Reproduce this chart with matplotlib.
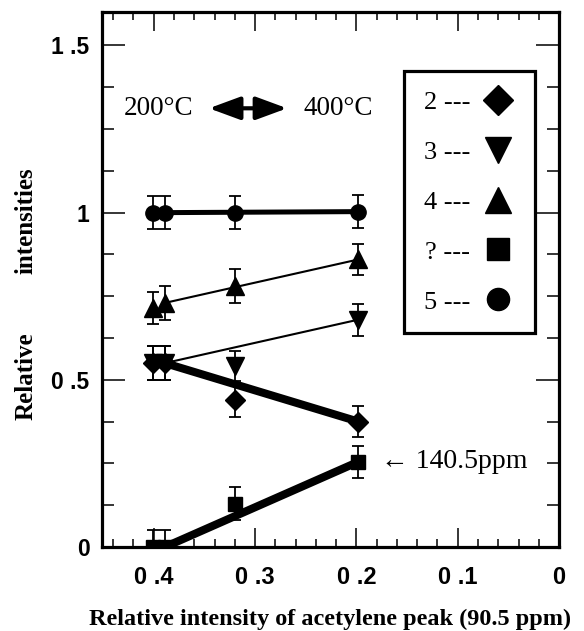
import matplotlib
matplotlib.use("Agg")
import matplotlib.pyplot as plt
from matplotlib.lines import Line2D
from matplotlib.ticker import MultipleLocator, FixedLocator

# ---- data ----
x_pts = [0.401, 0.389, 0.320, 0.198]

y_2 = [0.55, 0.55, 0.44, 0.375]      # diamonds
e_2 = [0.05, 0.05, 0.05, 0.046]
y_3 = [0.55, 0.55, 0.54, 0.68]       # down triangles
e_3 = [0.05, 0.05, 0.045, 0.048]
y_4 = [0.714, 0.73, 0.78, 0.86]      # up triangles
e_4 = [0.048, 0.05, 0.05, 0.046]
y_q = [0.0, 0.0, 0.13, 0.255]        # squares (unknown peak)
e_q = [0.05, 0.05, 0.05, 0.048]
y_5 = [1.0, 1.0, 1.0, 1.003]         # circles
e_5 = [0.05, 0.05, 0.05, 0.05]

legend_labels = ["2 ---", "3 ---", "4 ---", "? ---", "5 ---"]
x_ticks = [0.4, 0.3, 0.2, 0.1, 0.0]
x_ticklabels = ["0 .4", "0 .3", "0 .2", "0 .1", "0"]
y_ticks = [0, 0.5, 1.0, 1.5]
y_ticklabels = ["0", "0 .5", "1", "1 .5"]

SERIF = ["Liberation Serif", "DejaVu Serif"]
SANS = ["Liberation Sans", "DejaVu Sans"]

series = [
    (y_2, e_2, "D", 10.5, 5.8),
    (y_3, e_3, "v", 12.5, 1.5),
    (y_4, e_4, "^", 12.5, 1.5),
    (y_q, e_q, "s", 10.5, 5.8),
    (y_5, e_5, "o", 11.0, 3.6),
]

fig = plt.figure(figsize=(5.84, 6.31), dpi=100)
ax = fig.add_axes([0.1747, 0.1331, 0.7826, 0.8479])

for y, e, m, ms, lw in series:
    # line joins the 0.39 point and the 0.2 point
    ax.plot([x_pts[1], x_pts[3]], [y[1], y[3]], color="black", lw=lw,
            solid_capstyle="butt", zorder=2)
    ax.errorbar(x_pts, y, yerr=e, fmt="none", ecolor="black", elinewidth=1.3,
                capsize=4.3, capthick=1.3, zorder=3)
    ax.plot(x_pts, y, ls="none", marker=m, ms=ms, color="black", zorder=4)

ax.set_xlim(0.451, 0.0)
ax.set_ylim(0, 1.6)

ax.xaxis.set_major_locator(FixedLocator(x_ticks))
ax.xaxis.set_minor_locator(MultipleLocator(0.02))
ax.yaxis.set_major_locator(FixedLocator(y_ticks))
ax.yaxis.set_minor_locator(MultipleLocator(0.125))
ax.set_xticklabels(x_ticklabels, family=SANS, fontweight="bold", fontsize=17)
ax.set_yticklabels(y_ticklabels, family=SANS, fontweight="bold", fontsize=16.5)

ax.tick_params(axis="both", which="both", direction="in", top=True, right=True,
               width=1.1, color="black")
ax.tick_params(axis="x", which="major", length=14, pad=14)
ax.tick_params(axis="x", which="minor", length=6)
ax.tick_params(axis="y", which="major", length=16.5, pad=9)
ax.tick_params(axis="y", which="minor", length=8.5)
for sp in ax.spines.values():
    sp.set_linewidth(2.3)

# legend box with symbols after the labels
handles = [Line2D([], [], ls="none", marker=m, ms=ms, color="black")
           for _, _, m, ms, _ in series]
leg = ax.legend(handles, legend_labels, markerfirst=False, loc="upper left",
                bbox_to_anchor=(0.661, 0.890), frameon=True, fancybox=False,
                framealpha=1, edgecolor="black", handlelength=1.3,
                handletextpad=0.4, labelspacing=1.0, borderpad=0.75,
                borderaxespad=0, markerscale=1.45,
                prop={"family": SERIF, "size": 19})
leg.get_frame().set_linewidth(2.3)

# temperature annotation
ax.text(0.048, 0.82, "200°C", transform=ax.transAxes, family=SERIF, fontsize=19.5,
        va="center", ha="left")
ax.text(0.440, 0.82, "400°C", transform=ax.transAxes, family=SERIF, fontsize=19.5,
        va="center", ha="left")
ax.annotate("", xy=(0.405, 0.82), xytext=(0.234, 0.82), xycoords="axes fraction",
            arrowprops=dict(arrowstyle="<|-|>,head_length=1.9,head_width=0.7",
                            lw=3, color="black", shrinkA=0, shrinkB=0))

# peak marker
ax.annotate("← 140.5ppm", xy=(x_pts[3], y_q[3]), xytext=(16, 0),
            textcoords="offset points", family=SERIF, fontsize=20,
            va="center", ha="left")

ax.set_xlabel("Relative intensity of acetylene peak (90.5 ppm)", family=SERIF,
              fontweight="bold", fontsize=17.5, labelpad=14)
fig.text(0.045, 0.404, "Relative", rotation=90, family=SERIF, fontweight="bold",
         fontsize=18, ha="center", va="center")
fig.text(0.045, 0.651, "intensities", rotation=90, family=SERIF, fontweight="bold",
         fontsize=18, ha="center", va="center")

fig.savefig("out.png", dpi=100)
